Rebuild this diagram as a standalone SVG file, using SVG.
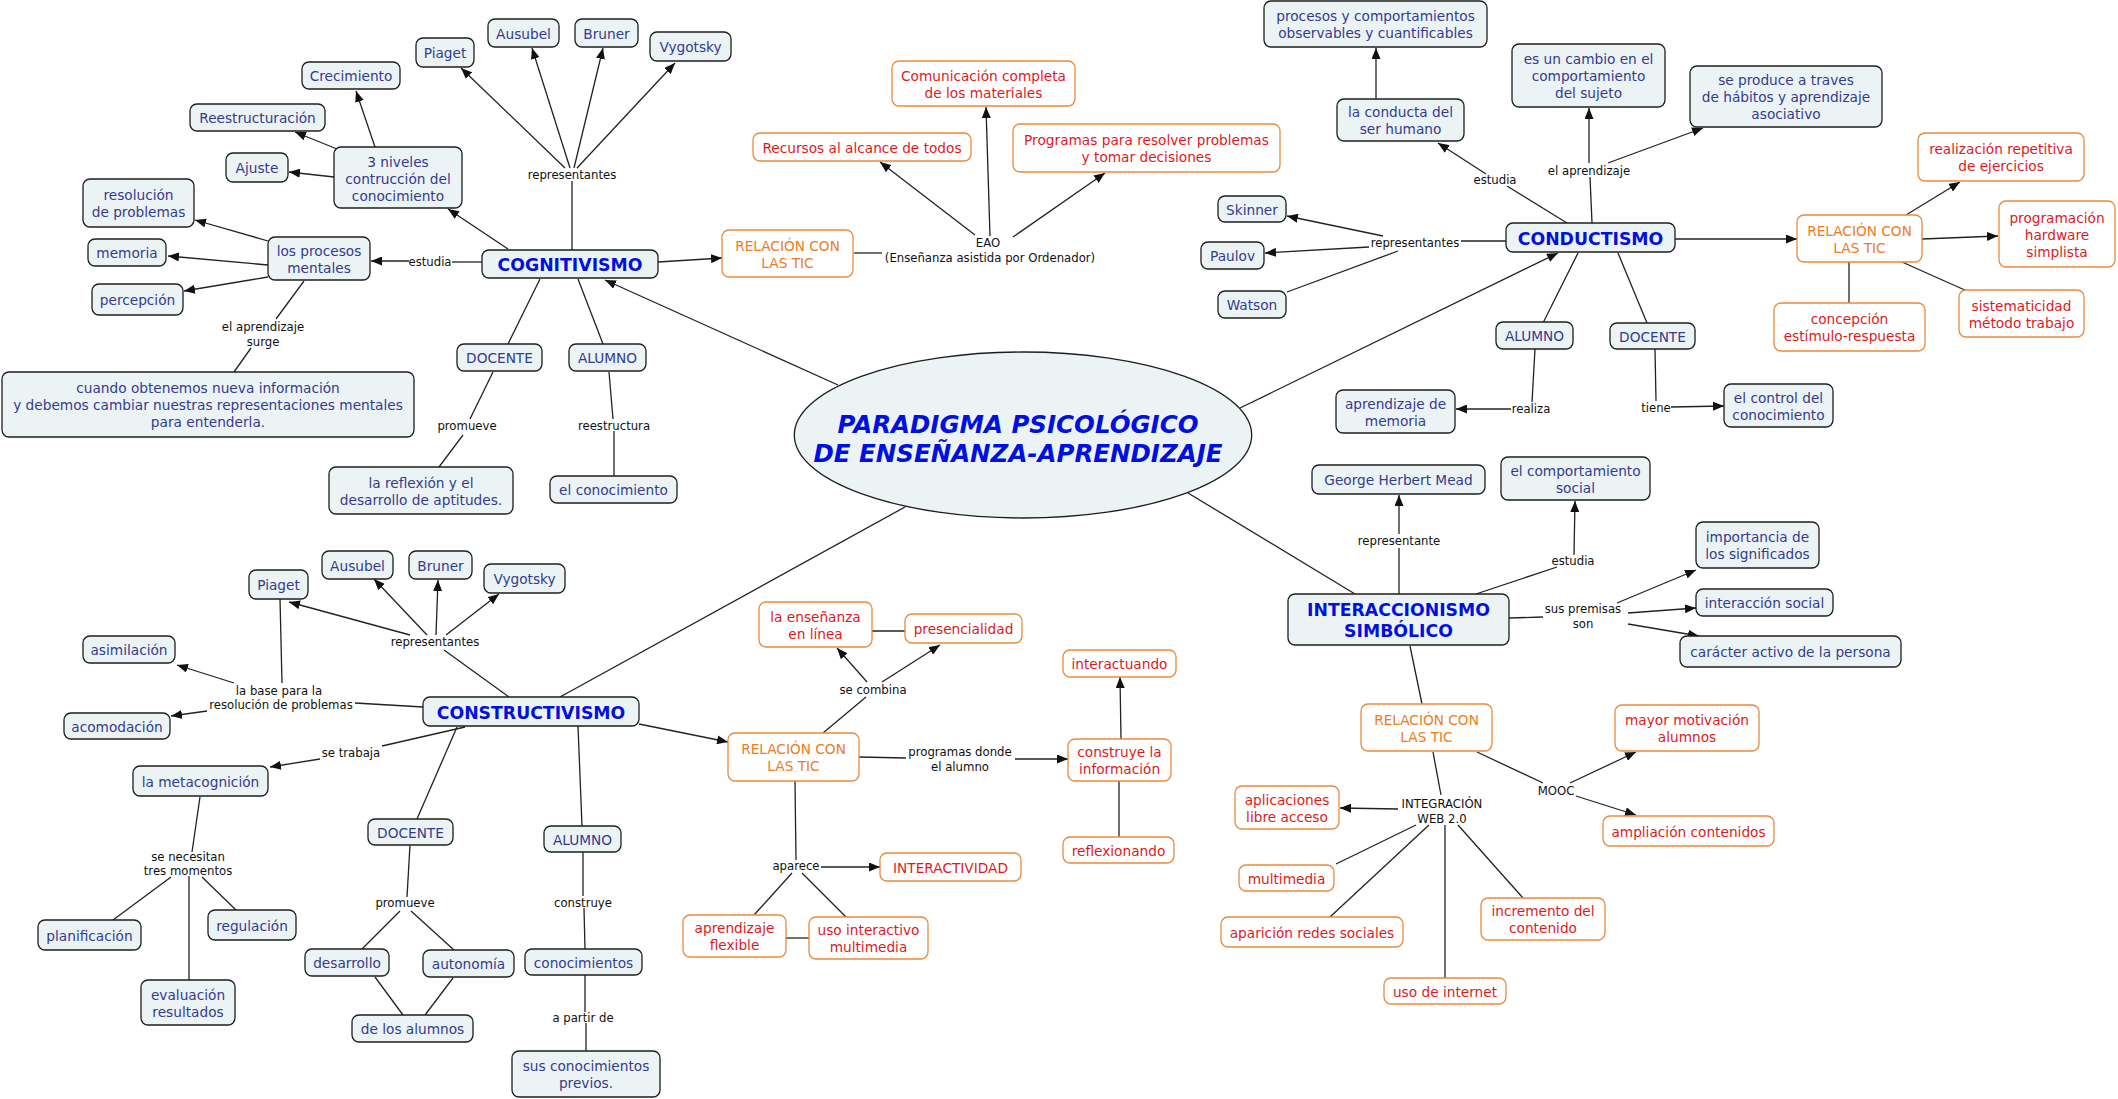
<svg xmlns="http://www.w3.org/2000/svg" width="2118" height="1099" viewBox="0 0 2118 1099" font-family="'DejaVu Sans', Verdana, sans-serif">
<style>
text{transform:translateY(1.2px)}
.n rect{fill:#ecf3f5;stroke:#1e1e1e;stroke-width:1.3}
.n text{fill:#333b8f;font-size:13.7px;text-anchor:middle}
.o rect,.r rect{fill:#fff;stroke:#ea8a3d;stroke-width:1.3}
.o text{fill:#ec7c22;font-size:13.7px;text-anchor:middle}
.r text{fill:#dc1a1e;font-size:13.7px;text-anchor:middle}
.t rect{fill:#ecf3f5;stroke:#1e1e1e;stroke-width:1.3}
.t text{fill:#0010e0;font-size:17.3px;font-weight:bold;text-anchor:middle}
.lbl text{font-size:11.7px;fill:#111;text-anchor:middle}
.c path{stroke:#222;stroke-width:1.3;fill:none}
.c path.a{marker-end:url(#ah)}
</style>
<defs>
<marker id="ah" markerWidth="11" markerHeight="9" refX="11" refY="4.5" orient="auto" markerUnits="userSpaceOnUse"><path d="M0,0 L11,4.5 L0,9 z" fill="#111"/></marker>
</defs>
<rect width="2118" height="1099" fill="#fff"/>

<g id="connectors" class="c">
<!-- cognitivismo -->
<path d="M572 250 L572 181"/>
<path class="a" d="M565 168 L461 68"/>
<path class="a" d="M570 168 L532 48"/>
<path class="a" d="M574 168 L603 48"/>
<path class="a" d="M577 168 L675 63"/>
<path class="a" d="M508 249 L448 209"/>
<path class="a" d="M375 147 L356 91"/>
<path class="a" d="M337 149 L295 132"/>
<path class="a" d="M334 177 L289 172"/>
<path d="M482 262 L452 262"/>
<path class="a" d="M409 261 L371 261"/>
<path class="a" d="M268 241 L195 220"/>
<path class="a" d="M268 265 L168 256"/>
<path class="a" d="M268 277 L184 291"/>
<path d="M304 281 L276 319"/>
<path d="M251 348 L234 372"/>
<path d="M540 279 L508 344"/>
<path d="M493 372 L470 419"/>
<path d="M463 435 L439 467"/>
<path d="M578 279 L603 344"/>
<path d="M609 372 L613 419"/>
<path d="M614 431 L614 476"/>
<path class="a" d="M658 262 L722 258"/>
<path d="M854 253 L882 253"/>
<path class="a" d="M975 235 L880 162"/>
<path class="a" d="M990 236 L986 107"/>
<path class="a" d="M1013 237 L1105 173"/>
<path class="a" d="M838 385 L605 280"/>
<!-- conductismo -->
<path class="a" d="M1240 408 L1558 253"/>
<path d="M1567 223 L1507 186"/>
<path class="a" d="M1486 174 L1438 143"/>
<path class="a" d="M1376 99 L1376 48"/>
<path d="M1592 223 L1590 177"/>
<path class="a" d="M1589 163 L1589 108"/>
<path class="a" d="M1608 163 L1703 128"/>
<path d="M1506 241 L1461 241"/>
<path class="a" d="M1383 236 L1287 216"/>
<path class="a" d="M1369 247 L1265 253"/>
<path d="M1398 251 L1287 292"/>
<path d="M1578 253 L1543 323"/>
<path d="M1535 349 L1532 402"/>
<path class="a" d="M1511 409 L1456 409"/>
<path d="M1618 253 L1647 323"/>
<path d="M1655 349 L1656 401"/>
<path class="a" d="M1671 407 L1724 406"/>
<path class="a" d="M1675 239 L1797 239"/>
<path class="a" d="M1906 215 L1960 182"/>
<path class="a" d="M1922 239 L1998 236"/>
<path d="M1849 262 L1849 303"/>
<path d="M1902 262 L1967 291"/>
<!-- constructivismo -->
<path d="M905 507 L560 697"/>
<path d="M509 697 L444 650"/>
<path class="a" d="M410 635 L289 602"/>
<path class="a" d="M427 635 L374 579"/>
<path class="a" d="M436 635 L438 580"/>
<path class="a" d="M446 635 L499 594"/>
<path d="M280 599 L282 683"/>
<path d="M423 707 L355 703"/>
<path class="a" d="M234 683 L177 665"/>
<path class="a" d="M207 711 L171 716"/>
<path d="M465 727 L382 746"/>
<path class="a" d="M320 759 L270 767"/>
<path d="M200 797 L192 852"/>
<path d="M171 877 L113 920"/>
<path d="M189 876 L189 980"/>
<path d="M202 877 L236 910"/>
<path d="M457 727 L417 819"/>
<path d="M410 845 L407 897"/>
<path d="M400 911 L362 949"/>
<path d="M411 911 L454 950"/>
<path d="M375 977 L403 1015"/>
<path d="M453 978 L425 1015"/>
<path d="M578 726 L582 826"/>
<path d="M583 852 L583 896"/>
<path d="M584 908 L585 949"/>
<path d="M585 975 L585 1012"/>
<path d="M586 1023 L586 1051"/>
<path class="a" d="M639 724 L728 742"/>
<path d="M823 733 L866 697"/>
<path class="a" d="M867 682 L837 648"/>
<path class="a" d="M882 682 L940 645"/>
<path d="M872 631 L905 631"/>
<path d="M859 757 L906 758"/>
<path class="a" d="M1015 759 L1068 759"/>
<path class="a" d="M1121 739 L1120 677"/>
<path d="M1119 781 L1119 837"/>
<path d="M795 781 L796 860"/>
<path class="a" d="M821 867 L880 867"/>
<path d="M792 873 L754 915"/>
<path d="M802 873 L846 917"/>
<path d="M786 938 L809 938"/>
<!-- interaccionismo -->
<path d="M1188 493 L1355 594"/>
<path d="M1399 594 L1399 548"/>
<path class="a" d="M1399 534 L1399 495"/>
<path d="M1476 594 L1557 567"/>
<path class="a" d="M1574 555 L1575 501"/>
<path d="M1509 618 L1543 617"/>
<path class="a" d="M1617 603 L1696 570"/>
<path class="a" d="M1628 613 L1696 608"/>
<path class="a" d="M1628 624 L1699 636"/>
<path d="M1410 646 L1422 704"/>
<path d="M1433 752 L1441 795"/>
<path class="a" d="M1398 809 L1340 808"/>
<path d="M1416 825 L1336 864"/>
<path d="M1429 825 L1330 917"/>
<path d="M1445 825 L1445 978"/>
<path d="M1458 825 L1523 898"/>
<path d="M1477 752 L1543 783"/>
<path class="a" d="M1570 783 L1636 752"/>
<path class="a" d="M1576 796 L1636 815"/>
</g>

<g id="labels" class="lbl">
<text x="572" y="178">representantes</text>
<text x="430" y="265">estudia</text>
<text x="263" y="330">el aprendizaje</text>
<text x="263" y="345">surge</text>
<text x="467" y="429">promueve</text>
<text x="614" y="429">reestructura</text>
<text x="988" y="246">EAO</text>
<text x="990" y="261">(Enseñanza asistida por Ordenador)</text>
<text x="1495" y="183">estudia</text>
<text x="1589" y="174">el aprendizaje</text>
<text x="1415" y="246">representantes</text>
<text x="1531" y="412">realiza</text>
<text x="1656" y="411">tiene</text>
<text x="1399" y="544">representante</text>
<text x="1573" y="564">estudia</text>
<text x="1583" y="612">sus premisas</text>
<text x="1583" y="627">son</text>
<text x="435" y="645">representantes</text>
<text x="279" y="694">la base para la</text>
<text x="281" y="708">resolución de problemas</text>
<text x="351" y="756">se trabaja</text>
<text x="188" y="860">se necesitan</text>
<text x="188" y="874">tres momentos</text>
<text x="405" y="906">promueve</text>
<text x="583" y="906">construye</text>
<text x="583" y="1021">a partir de</text>
<text x="873" y="693">se combina</text>
<text x="960" y="755">programas donde</text>
<text x="960" y="770">el alumno</text>
<text x="796" y="869">aparece</text>
<text x="1442" y="807">INTEGRACIÓN</text>
<text x="1442" y="822">WEB 2.0</text>
<text x="1556" y="794">MOOC</text>
</g>

<g id="paradigma">
<ellipse cx="1023" cy="435" rx="228.7" ry="83" fill="#ecf3f5" stroke="#1e1e1e" stroke-width="1.3"/>
<text x="1018" y="431.7" font-size="24.5" font-weight="bold" font-style="italic" fill="#0010e0" text-anchor="middle">PARADIGMA PSICOLÓGICO</text>
<text x="1018" y="460.7" font-size="24.5" font-weight="bold" font-style="italic" fill="#0010e0" text-anchor="middle">DE ENSEÑANZA-APRENDIZAJE</text>
</g>

<g id="cognitivismo" class="t"><rect x="482" y="250" width="176" height="28" rx="7"/><text x="570" y="270">COGNITIVISMO</text></g>
<g id="conductismo" class="t"><rect x="1506" y="223" width="169" height="29" rx="7"/><text x="1590.5" y="243.5">CONDUCTISMO</text></g>
<g id="constructivismo" class="t"><rect x="423" y="697" width="216" height="29" rx="7"/><text x="531" y="717.5">CONSTRUCTIVISMO</text></g>
<g id="interaccionismo" class="t"><rect x="1288" y="594" width="221" height="51" rx="7"/><text x="1398.5" y="614.5">INTERACCIONISMO</text><text x="1398.5" y="636">SIMBÓLICO</text></g>

<g id="c_piaget" class="n"><rect x="416" y="38" width="58" height="29" rx="7"/><text x="445" y="57.3">Piaget</text></g>
<g id="c_ausubel" class="n"><rect x="488" y="19" width="71" height="28" rx="7"/><text x="523.5" y="37.8">Ausubel</text></g>
<g id="c_bruner" class="n"><rect x="575" y="19" width="63" height="28" rx="7"/><text x="606.5" y="37.8">Bruner</text></g>
<g id="c_vygotsky" class="n"><rect x="650" y="32" width="81" height="29" rx="7"/><text x="690.5" y="51.3">Vygotsky</text></g>
<g id="c_crecimiento" class="n"><rect x="302" y="62" width="98" height="27" rx="7"/><text x="351" y="80.3">Crecimiento</text></g>
<g id="c_reestructuracion" class="n"><rect x="190" y="104" width="135" height="27" rx="7"/><text x="257.5" y="122.3">Reestructuración</text></g>
<g id="c_ajuste" class="n"><rect x="226" y="153" width="62" height="29" rx="7"/><text x="257" y="172.3">Ajuste</text></g>
<g id="c_niveles" class="n"><rect x="334" y="147" width="128" height="61" rx="7"/><text x="398" y="165.8">3 niveles</text><text x="398" y="182.8">contrucción del</text><text x="398" y="199.8">conocimiento</text></g>
<g id="c_resolucion" class="n"><rect x="83" y="179" width="111" height="48" rx="7"/><text x="138.5" y="199.3">resolución</text><text x="138.5" y="216.3">de problemas</text></g>
<g id="c_memoria" class="n"><rect x="88" y="239" width="78" height="27" rx="7"/><text x="127" y="257.3">memoria</text></g>
<g id="c_percepcion" class="n"><rect x="92" y="284" width="91" height="31" rx="7"/><text x="137.5" y="304.3">percepción</text></g>
<g id="c_procesos" class="n"><rect x="268" y="237" width="102" height="43" rx="7"/><text x="319" y="254.8">los procesos</text><text x="319" y="271.8">mentales</text></g>
<g id="c_cuando" class="n"><rect x="2" y="372" width="412" height="65" rx="7"/><text x="208" y="392.3">cuando obtenemos nueva información</text><text x="208" y="409.3">y debemos cambiar nuestras representaciones mentales</text><text x="208" y="426.3">para entenderla.</text></g>
<g id="c_docente" class="n"><rect x="457" y="344" width="85" height="27" rx="7"/><text x="499.5" y="362.3">DOCENTE</text></g>
<g id="c_alumno" class="n"><rect x="569" y="344" width="77" height="27" rx="7"/><text x="607.5" y="362.3">ALUMNO</text></g>
<g id="c_reflexion" class="n"><rect x="329" y="467" width="184" height="47" rx="7"/><text x="421" y="486.8">la reflexión y el</text><text x="421" y="503.8">desarrollo de aptitudes.</text></g>
<g id="c_conocimiento" class="n"><rect x="550" y="476" width="127" height="27" rx="7"/><text x="613.5" y="494.3">el conocimiento</text></g>
<g id="c_tic" class="o"><rect x="722" y="230" width="131" height="47" rx="7"/><text x="787.5" y="249.8">RELACIÓN CON</text><text x="787.5" y="266.8">LAS TIC</text></g>
<g id="c_comunicacion" class="r"><rect x="892" y="61" width="183" height="45" rx="7"/><text x="983.5" y="79.8">Comunicación completa</text><text x="983.5" y="96.8">de los materiales</text></g>
<g id="c_recursos" class="r"><rect x="753" y="133" width="218" height="28" rx="7"/><text x="862" y="151.8">Recursos al alcance de todos</text></g>
<g id="c_programas" class="r"><rect x="1013" y="124" width="267" height="48" rx="7"/><text x="1146.5" y="144.3">Programas para resolver problemas</text><text x="1146.5" y="161.3">y tomar decisiones</text></g>

<g id="d_procesos" class="n"><rect x="1264" y="1" width="223" height="46" rx="7"/><text x="1375.5" y="19.5">procesos y comportamientos</text><text x="1375.5" y="36.5">observables y cuantificables</text></g>
<g id="d_conducta" class="n"><rect x="1337" y="99" width="127" height="42" rx="7"/><text x="1400.5" y="116.3">la conducta del</text><text x="1400.5" y="133.3">ser humano</text></g>
<g id="d_cambio" class="n"><rect x="1512" y="44" width="153" height="63" rx="7"/><text x="1588.5" y="62.8">es un cambio en el</text><text x="1588.5" y="79.8">comportamiento</text><text x="1588.5" y="96.8">del sujeto</text></g>
<g id="d_produce" class="n"><rect x="1690" y="66" width="192" height="61" rx="7"/><text x="1786" y="84.3">se produce a traves</text><text x="1786" y="101.3">de hábitos y aprendizaje</text><text x="1786" y="118.3">asociativo</text></g>
<g id="d_skinner" class="n"><rect x="1218" y="196" width="68" height="26" rx="7"/><text x="1252" y="213.8">Skinner</text></g>
<g id="d_paulov" class="n"><rect x="1201" y="242" width="63" height="27" rx="7"/><text x="1232.5" y="260.3">Paulov</text></g>
<g id="d_watson" class="n"><rect x="1218" y="291" width="68" height="27" rx="7"/><text x="1252" y="309.3">Watson</text></g>
<g id="d_alumno" class="n"><rect x="1496" y="322" width="77" height="27" rx="7"/><text x="1534.5" y="340.3">ALUMNO</text></g>
<g id="d_docente" class="n"><rect x="1610" y="323" width="85" height="26" rx="7"/><text x="1652.5" y="340.8">DOCENTE</text></g>
<g id="d_memoria" class="n"><rect x="1336" y="390" width="119" height="43" rx="7"/><text x="1395.5" y="407.8">aprendizaje de</text><text x="1395.5" y="424.8">memoria</text></g>
<g id="d_control" class="n"><rect x="1724" y="384" width="109" height="43" rx="7"/><text x="1778.5" y="401.8">el control del</text><text x="1778.5" y="418.8">conocimiento</text></g>
<g id="d_tic" class="o"><rect x="1797" y="215" width="125" height="47" rx="7"/><text x="1859.5" y="234.8">RELACIÓN CON</text><text x="1859.5" y="251.8">LAS TIC</text></g>
<g id="d_realizacion" class="r"><rect x="1918" y="133" width="166" height="48" rx="7"/><text x="2001" y="153.3">realización repetitiva</text><text x="2001" y="170.3">de ejercicios</text></g>
<g id="d_programacion" class="r"><rect x="1999" y="201" width="116" height="66" rx="7"/><text x="2057" y="221.8">programación</text><text x="2057" y="238.8">hardware</text><text x="2057" y="255.8">simplista</text></g>
<g id="d_concepcion" class="r"><rect x="1774" y="303" width="151" height="48" rx="7"/><text x="1849.5" y="323.3">concepción</text><text x="1849.5" y="340.3">estímulo-respuesta</text></g>
<g id="d_sistematicidad" class="r"><rect x="1959" y="290" width="125" height="47" rx="7"/><text x="2021.5" y="309.8">sistematicidad</text><text x="2021.5" y="326.8">método trabajo</text></g>

<g id="i_mead" class="n"><rect x="1312" y="465" width="173" height="29" rx="7"/><text x="1398.5" y="484.3">George Herbert Mead</text></g>
<g id="i_social" class="n"><rect x="1501" y="457" width="149" height="43" rx="7"/><text x="1575.5" y="474.8">el comportamiento</text><text x="1575.5" y="491.8">social</text></g>
<g id="i_importancia" class="n"><rect x="1696" y="522" width="123" height="46" rx="7"/><text x="1757.5" y="541.3">importancia de</text><text x="1757.5" y="558.3">los significados</text></g>
<g id="i_interaccion" class="n"><rect x="1696" y="589" width="137" height="27" rx="7"/><text x="1764.5" y="607.3">interacción social</text></g>
<g id="i_caracter" class="n"><rect x="1680" y="636" width="221" height="31" rx="7"/><text x="1790.5" y="656.3">carácter activo de la persona</text></g>
<g id="i_tic" class="o"><rect x="1361" y="704" width="131" height="47" rx="7"/><text x="1426.5" y="723.8">RELACIÓN CON</text><text x="1426.5" y="740.8">LAS TIC</text></g>
<g id="i_motivacion" class="r"><rect x="1615" y="705" width="144" height="46" rx="7"/><text x="1687" y="724.3">mayor motivación</text><text x="1687" y="741.3">alumnos</text></g>
<g id="i_ampliacion" class="r"><rect x="1603" y="816" width="171" height="30" rx="7"/><text x="1688.5" y="835.8">ampliación contenidos</text></g>
<g id="i_aplicaciones" class="r"><rect x="1235" y="786" width="104" height="43" rx="7"/><text x="1287" y="803.8">aplicaciones</text><text x="1287" y="820.8">libre acceso</text></g>
<g id="i_multimedia" class="r"><rect x="1239" y="865" width="95" height="26" rx="7"/><text x="1286.5" y="882.8">multimedia</text></g>
<g id="i_redes" class="r"><rect x="1221" y="917" width="182" height="30" rx="7"/><text x="1312" y="936.8">aparición redes sociales</text></g>
<g id="i_internet" class="r"><rect x="1384" y="978" width="122" height="26" rx="7"/><text x="1445" y="995.8">uso de internet</text></g>
<g id="i_incremento" class="r"><rect x="1481" y="898" width="124" height="42" rx="7"/><text x="1543" y="915.3">incremento del</text><text x="1543" y="932.3">contenido</text></g>

<g id="k_piaget" class="n"><rect x="249" y="570" width="59" height="29" rx="7"/><text x="278.5" y="589.3">Piaget</text></g>
<g id="k_ausubel" class="n"><rect x="322" y="551" width="71" height="28" rx="7"/><text x="357.5" y="569.8">Ausubel</text></g>
<g id="k_bruner" class="n"><rect x="409" y="551" width="63" height="28" rx="7"/><text x="440.5" y="569.8">Bruner</text></g>
<g id="k_vygotsky" class="n"><rect x="484" y="564" width="81" height="29" rx="7"/><text x="524.5" y="583.3">Vygotsky</text></g>
<g id="k_asimilacion" class="n"><rect x="83" y="636" width="92" height="27" rx="7"/><text x="129" y="654.3">asimilación</text></g>
<g id="k_acomodacion" class="n"><rect x="64" y="713" width="106" height="26" rx="7"/><text x="117" y="730.8">acomodación</text></g>
<g id="k_metacognicion" class="n"><rect x="133" y="766" width="135" height="30" rx="7"/><text x="200.5" y="785.8">la metacognición</text></g>
<g id="k_planificacion" class="n"><rect x="38" y="920" width="103" height="30" rx="7"/><text x="89.5" y="939.8">planificación</text></g>
<g id="k_regulacion" class="n"><rect x="208" y="910" width="88" height="30" rx="7"/><text x="252" y="929.8">regulación</text></g>
<g id="k_evaluacion" class="n"><rect x="141" y="980" width="94" height="45" rx="7"/><text x="188" y="998.8">evaluación</text><text x="188" y="1015.8">resultados</text></g>
<g id="k_docente" class="n"><rect x="368" y="819" width="85" height="26" rx="7"/><text x="410.5" y="836.8">DOCENTE</text></g>
<g id="k_desarrollo" class="n"><rect x="305" y="949" width="84" height="27" rx="7"/><text x="347" y="967.3">desarrollo</text></g>
<g id="k_autonomia" class="n"><rect x="423" y="950" width="91" height="27" rx="7"/><text x="468.5" y="968.3">autonomía</text></g>
<g id="k_alumnos" class="n"><rect x="352" y="1015" width="121" height="27" rx="7"/><text x="412.5" y="1033.3">de los alumnos</text></g>
<g id="k_alumno" class="n"><rect x="544" y="826" width="77" height="26" rx="7"/><text x="582.5" y="843.8">ALUMNO</text></g>
<g id="k_conocimientos" class="n"><rect x="525" y="949" width="117" height="26" rx="7"/><text x="583.5" y="966.8">conocimientos</text></g>
<g id="k_previos" class="n"><rect x="512" y="1051" width="148" height="46" rx="7"/><text x="586" y="1070.3">sus conocimientos</text><text x="586" y="1087.3">previos.</text></g>
<g id="k_tic" class="o"><rect x="728" y="733" width="131" height="48" rx="7"/><text x="793.5" y="753.3">RELACIÓN CON</text><text x="793.5" y="770.3">LAS TIC</text></g>
<g id="k_linea" class="r"><rect x="759" y="602" width="113" height="45" rx="7"/><text x="815.5" y="620.8">la enseñanza</text><text x="815.5" y="637.8">en línea</text></g>
<g id="k_presencialidad" class="r"><rect x="905" y="614" width="117" height="29" rx="7"/><text x="963.5" y="633.3">presencialidad</text></g>
<g id="k_interactuando" class="r"><rect x="1063" y="650" width="113" height="27" rx="7"/><text x="1119.5" y="668.3">interactuando</text></g>
<g id="k_construye" class="r"><rect x="1068" y="739" width="103" height="42" rx="7"/><text x="1119.5" y="756.3">construye la</text><text x="1119.5" y="773.3">información</text></g>
<g id="k_reflexionando" class="r"><rect x="1063" y="837" width="111" height="26" rx="7"/><text x="1118.5" y="854.8">reflexionando</text></g>
<g id="k_interactividad" class="r"><rect x="880" y="853" width="141" height="28" rx="7"/><text x="950.5" y="871.8">INTERACTIVIDAD</text></g>
<g id="k_flexible" class="r"><rect x="683" y="915" width="103" height="42" rx="7"/><text x="734.5" y="932.3">aprendizaje</text><text x="734.5" y="949.3">flexible</text></g>
<g id="k_uso" class="r"><rect x="809" y="917" width="119" height="42" rx="7"/><text x="868.5" y="934.3">uso interactivo</text><text x="868.5" y="951.3">multimedia</text></g>
</svg>
